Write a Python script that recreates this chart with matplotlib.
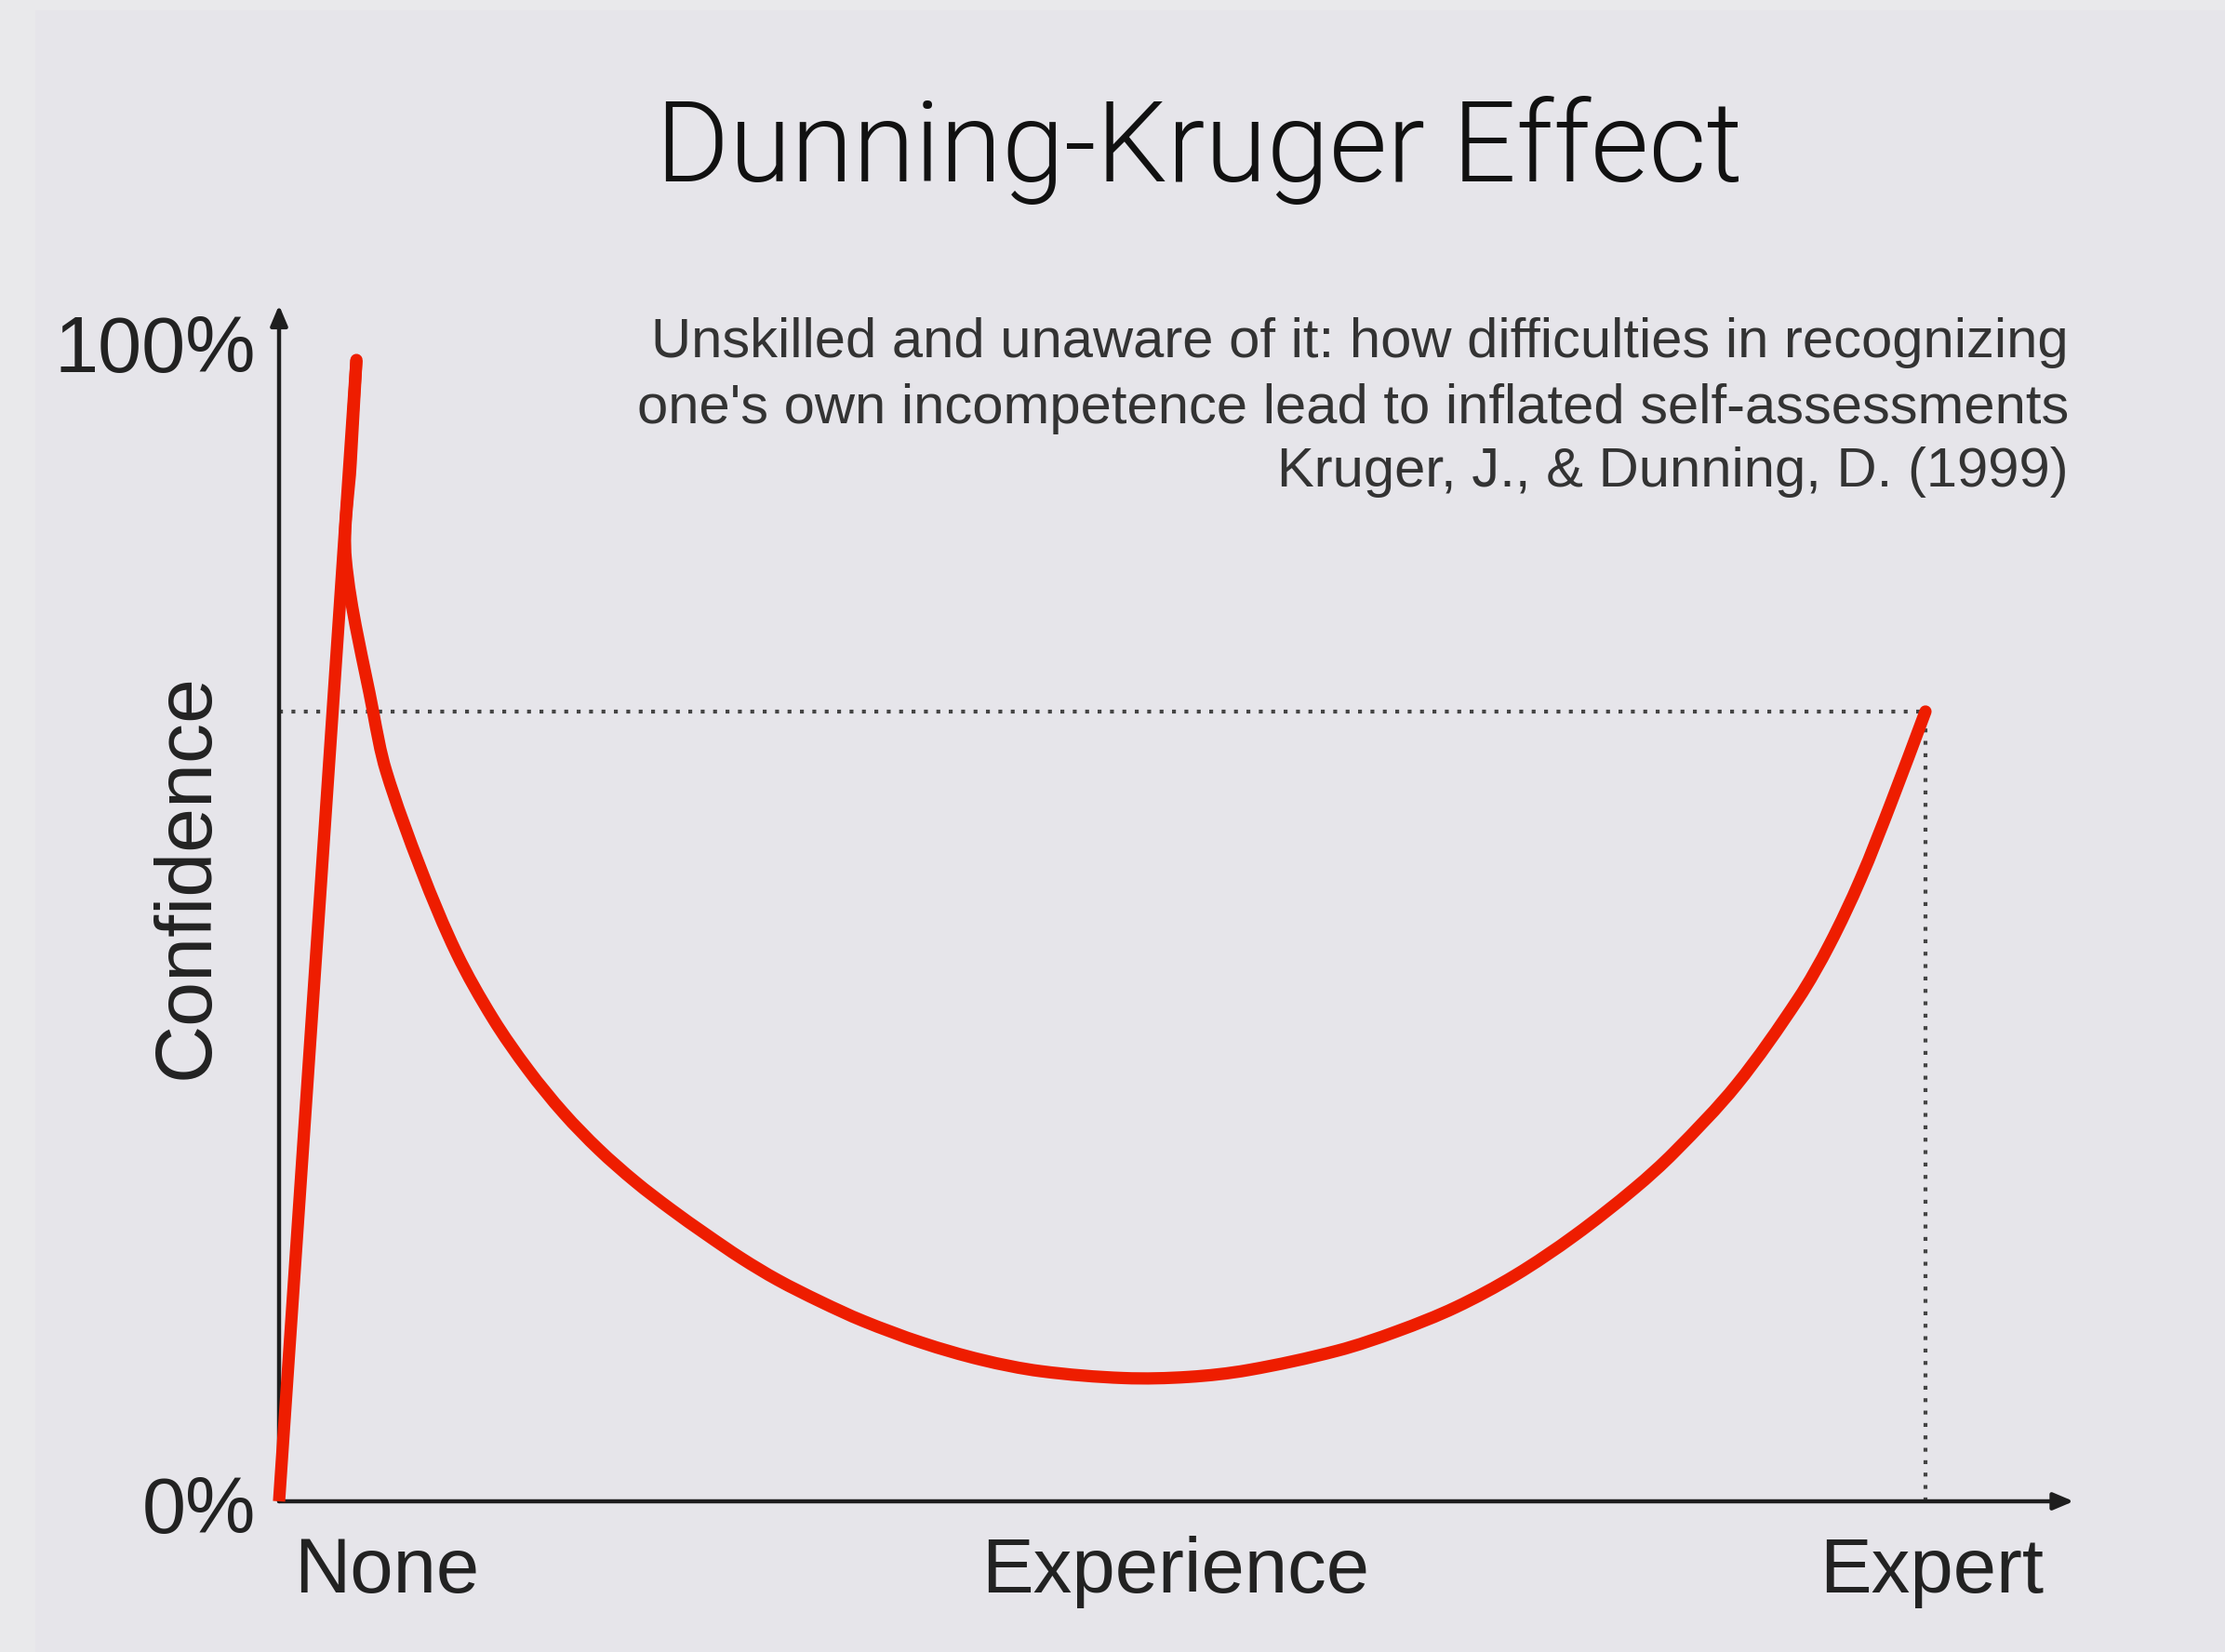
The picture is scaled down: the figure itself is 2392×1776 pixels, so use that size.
import matplotlib
matplotlib.use("Agg")
import matplotlib.pyplot as plt
import numpy as np
from matplotlib.patches import Rectangle, PathPatch
from matplotlib.path import Path
from matplotlib import font_manager

# ---- data (x: experience 0..100, y: confidence %) ----
rise_x = [0.0, 4.7]
rise_y = [0.0, 100.0]

curve_x = [4.7, 4.35, 4.05, 5.71, 6.50, 8.64, 10.79, 12.99, 15.14, 17.29, 19.44,
           21.64, 23.79, 25.93, 28.08, 30.28, 32.88, 35.48, 39.04, 42.66, 46.27,
           51.30, 55.25, 58.87, 64.29, 67.91, 71.47, 75.08, 78.70, 82.32, 84.75,
           88.53, 92.26, 94.18, 96.05, 97.91, 100.0]
curve_y = [100.0, 91.0, 82.6, 69.2, 64.0, 55.3, 48.0, 42.3, 37.8, 34.0, 30.8,
           28.0, 25.6, 23.4, 21.3, 19.4, 17.5, 15.8, 13.9, 12.4, 11.4,
           10.8, 10.9, 11.5, 13.2, 14.9, 17.0, 19.8, 23.3, 27.4, 30.6,
           36.5, 44.0, 48.8, 54.5, 61.2, 69.2]

expert_level = 69.2
x_labels = ["None", "Experience", "Expert"]
y_labels = ["0%", "100%"]
title = "Dunning-Kruger Effect"
subtitle = ["Unskilled and unaware of it: how difficulties in recognizing",
            "one's own incompetence lead to inflated self-assessments",
            "Kruger, J., & Dunning, D. (1999)"]

W, H = 2392, 1776
DPI = 100
AX_W_PX, AX_H_PX = 1770, 1227
plt.rcParams['font.family'] = ['Liberation Sans', 'DejaVu Sans']

# pick a light sans for the title if one is installed
title_family, title_weight = 'Liberation Sans', 'normal'
for fam in ['Roboto', 'Inter', 'Lato', 'Open Sans']:
    found = [f for f in font_manager.fontManager.ttflist
             if f.name == fam and isinstance(f.weight, int) and f.weight <= 300
             and f.style == 'normal']
    if found:
        title_family, title_weight = fam, 300
        break


def smooth_path(xs, ys, sx, sy):
    """Smooth (chord-length Hermite) curve through the points as Bezier segments."""
    p = np.column_stack([np.asarray(xs) * sx, np.asarray(ys) * sy]).astype(float)
    d = np.linalg.norm(np.diff(p, axis=0), axis=1)
    t = np.concatenate([[0], np.cumsum(d)])
    n = len(p)
    m = np.zeros_like(p)
    m[0] = (p[1] - p[0]) / d[0]
    m[-1] = (p[-1] - p[-2]) / d[-1]
    for i in range(1, n - 1):
        m[i] = (p[i + 1] - p[i - 1]) / (t[i + 1] - t[i - 1])
    verts = [p[0]]
    codes = [Path.MOVETO]
    for i in range(n - 1):
        c1 = p[i] + m[i] * d[i] / 3.0
        c2 = p[i + 1] - m[i + 1] * d[i] / 3.0
        verts += [c1, c2, p[i + 1]]
        codes += [Path.CURVE4] * 3
    verts = np.array(verts)
    verts[:, 0] /= sx
    verts[:, 1] /= sy
    return Path(verts, codes)


fig = plt.figure(figsize=(W / DPI, H / DPI), dpi=DPI)
fig.patch.set_facecolor('#e9e9eb')
fig.patches.append(Rectangle((38 / W, 0), 1 - 38 / W, 1 - 11 / H, transform=fig.transFigure,
                             facecolor='#e6e5ea', edgecolor='none', zorder=-5))

ax = fig.add_axes([300 / W, (H - 1614) / H, AX_W_PX / W, AX_H_PX / H])
ax.set_zorder(2)
ax.set_xlim(0, 100)
ax.set_ylim(0, 100)
ax.patch.set_alpha(0)
for s in ax.spines.values():
    s.set_visible(False)
ax.set_xticks([])
ax.set_yticks([])

axis_col = '#1e1e1e'
# axes arrows
ax.annotate('', xy=(109.0, 0), xytext=(0, 0), xycoords='data',
            arrowprops=dict(arrowstyle='-|>,head_length=1.3,head_width=0.55', lw=3.2,
                            color=axis_col, shrinkA=0, shrinkB=0), annotation_clip=False)
ax.annotate('', xy=(0, 104.8), xytext=(0, 0), xycoords='data',
            arrowprops=dict(arrowstyle='-|>,head_length=1.3,head_width=0.55', lw=3.2,
                            color=axis_col, shrinkA=0, shrinkB=0), annotation_clip=False)

# dotted guide lines
ax.plot([0, 100], [expert_level, expert_level], linestyle=(0, (1, 2.2)), lw=3,
        color='#444444', clip_on=False, zorder=2)
ax.plot([100, 100], [0, expert_level], linestyle=(0, (1, 2.2)), lw=3,
        color='#444444', clip_on=False, zorder=2)

red = '#ee1d00'
ax.plot(rise_x, rise_y, color=red, lw=9.5, solid_capstyle='butt', clip_on=False, zorder=3)
ax.add_patch(PathPatch(smooth_path(curve_x, curve_y, AX_W_PX / 100, AX_H_PX / 100),
                       facecolor='none', edgecolor=red, lw=9.5,
                       capstyle='round', joinstyle='round', clip_on=False, zorder=3))

tc = '#222222'
# title
t = fig.text(1289 / W, 1 - 195 / H, title, ha='center', va='baseline', fontsize=85.5,
             color='#111111', family=[title_family, 'DejaVu Sans'], fontweight=title_weight)
# keep the title width as in the reference (~1169 px)
fig.canvas.draw()
wpx = t.get_window_extent().width
t.set_fontsize(85.5 * 1169.0 / wpx)

# subtitle lines, right aligned
sub_base = [384, 455, 523]
for line, b in zip(subtitle, sub_base):
    fig.text(2224 / W, 1 - b / H, line, ha='right', va='baseline', fontsize=43, color='#333333')

# y labels
fig.text(275 / W, 1 - 1648 / H, y_labels[0], ha='right', va='baseline', fontsize=61, color=tc)
fig.text(275 / W, 1 - 400 / H, y_labels[1], ha='right', va='baseline', fontsize=61, color=tc)
fig.text(224 / W, 1 - 942 / H, 'Confidence', rotation=90, ha='center', va='baseline',
         fontsize=62, color=tc, rotation_mode='anchor')

# x labels
fig.text(316 / W, 1 - 1712 / H, x_labels[0], ha='left', va='baseline', fontsize=60, color=tc)
fig.text(1264 / W, 1 - 1712 / H, x_labels[1], ha='center', va='baseline', fontsize=60, color=tc)
fig.text(2197 / W, 1 - 1712 / H, x_labels[2], ha='right', va='baseline', fontsize=60, color=tc)

fig.savefig('out.png', dpi=DPI, facecolor=fig.get_facecolor())
